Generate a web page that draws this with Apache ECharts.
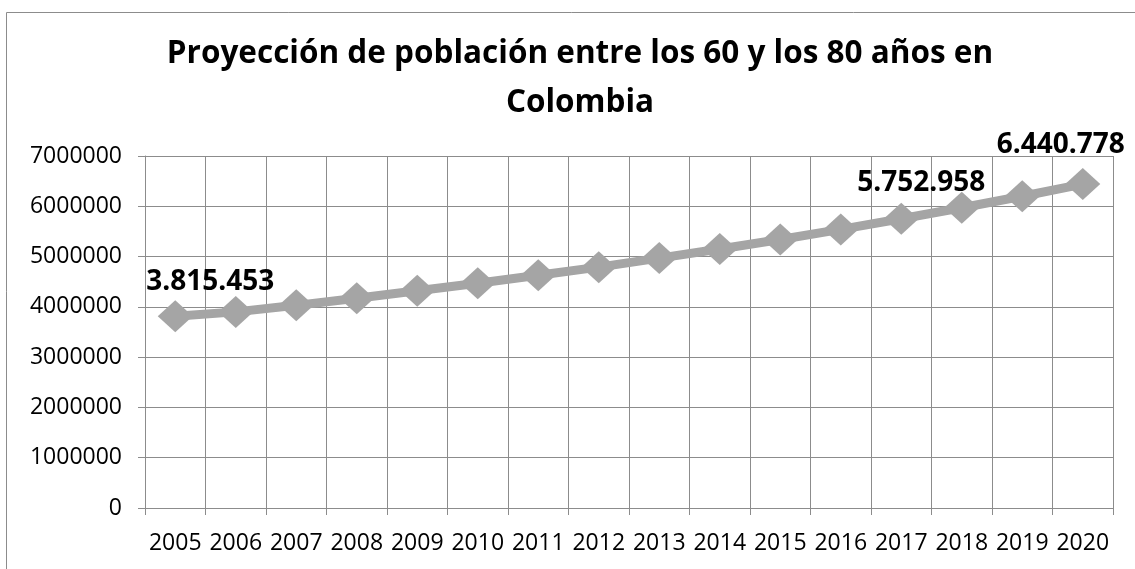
<!DOCTYPE html>
<html>
<head>
<meta charset="utf-8">
<script src="https://cdn.jsdelivr.net/npm/echarts@6/dist/echarts.min.js"></script>
<style>
  html, body { margin: 0; padding: 0; background: #fff; }
  #chart { width: 1135px; height: 569px; }
</style>
</head>
<body>
<div id="chart"></div>
<script>
// Years on the horizontal axis
const years = ['2005','2006','2007','2008','2009','2010','2011','2012','2013','2014','2015','2016','2017','2018','2019','2020'];
// Projected population aged 60–80
const population = [3815453, 3900000, 4030000, 4170000, 4320000, 4470000, 4630000, 4790000, 4970000, 5150000, 5340000, 5540000, 5752958, 5970000, 6200000, 6440778];
// Years whose value is printed next to the marker
const labelledYears = ['2005', '2017', '2020'];
const labelOffsets = { '2005': [35, -34], '2017': [20, -36], '2020': [-22, -39] };

const fmt = v => String(Math.round(v)).replace(/\B(?=(\d{3})+(?!\d))/g, '.');
const gridColor = '#8c8c8c';
const font = '"Open Sans", "Noto Sans", sans-serif';

const seriesData = population.map((v, i) => {
  const y = years[i];
  if (!labelledYears.includes(y)) return v;
  return {
    value: v,
    label: {
      show: true,
      position: 'inside',
      offset: labelOffsets[y],
      formatter: p => fmt(p.value),
      color: '#000',
      fontWeight: 'bold',
      fontSize: 28,
      fontFamily: font
    }
  };
});

const chart = echarts.init(document.getElementById('chart'), null, { renderer: 'canvas' });
chart.setOption({
  animation: false,
  backgroundColor: '#fff',
  graphic: [{
    type: 'rect',
    left: 4, top: 10,
    shape: { width: 1200, height: 700 },
    style: { fill: 'none', stroke: gridColor, lineWidth: 1 },
    silent: true,
    z: -1
  }],
  title: {
    text: 'Proyección de población entre los 60 y los 80 años en\nColombia',
    left: 575,
    top: 25,
    textAlign: 'center',
    textStyle: {
      fontFamily: font,
      fontWeight: 'bold',
      fontSize: 31.5,
      lineHeight: 49,
      color: '#000'
    }
  },
  grid: { left: 145, right: 22, top: 156, bottom: 61 },
  xAxis: {
    type: 'category',
    data: years,
    boundaryGap: true,
    axisLine: { show: true, lineStyle: { color: gridColor, width: 1 } },
    axisTick: { show: true, length: 7, lineStyle: { color: gridColor } },
    splitLine: { show: true, lineStyle: { color: gridColor, width: 1 } },
    axisLabel: { color: '#000', fontSize: 23, fontFamily: font, margin: 24, interval: 0 }
  },
  yAxis: {
    type: 'value',
    min: 0,
    max: 7000000,
    interval: 1000000,
    axisLine: { show: true, lineStyle: { color: gridColor, width: 1 } },
    axisTick: { show: true, length: 7, lineStyle: { color: gridColor } },
    splitLine: { show: true, lineStyle: { color: gridColor, width: 1 } },
    axisLabel: { color: '#000', fontSize: 23, fontFamily: font, margin: 23, formatter: v => String(v) }
  },
  series: [{
    type: 'line',
    data: seriesData,
    symbol: 'diamond',
    symbolSize: [35, 32],
    lineStyle: { color: '#a5a5a5', width: 9 },
    itemStyle: { color: '#a5a5a5' },
    label: { show: false }
  }]
});
</script>
</body>
</html>
